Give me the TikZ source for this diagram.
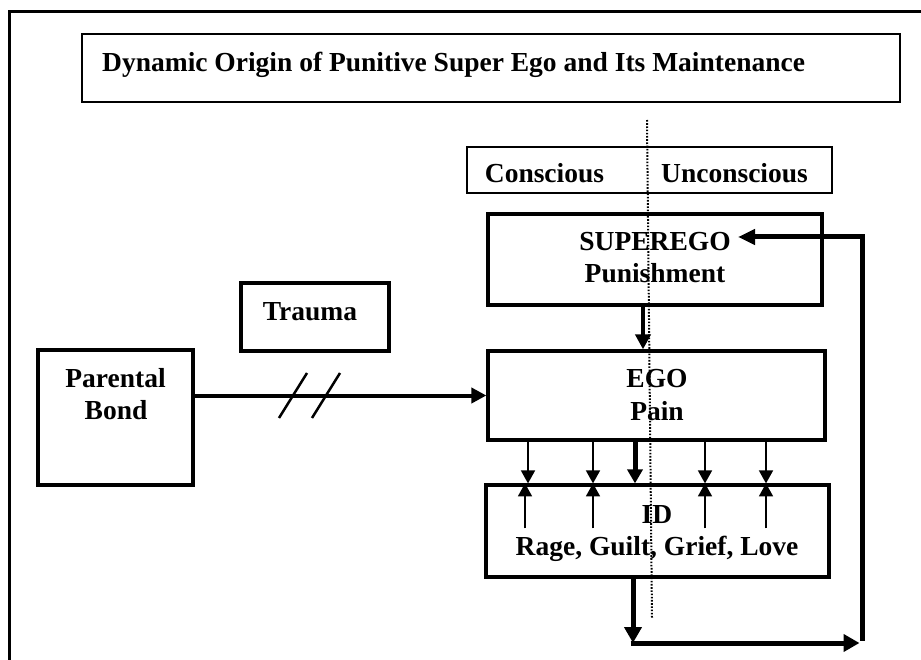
\documentclass[tikz,border=0pt]{standalone}
\usepackage{fontspec}
\setmainfont{Liberation Serif}
\usetikzlibrary{arrows.meta}
\begin{document}
\begin{tikzpicture}[x=1pt,y=-1pt,
  boxwh/.style 2 args={draw,inner sep=0pt,minimum width=#1,minimum height=#2},
  heavybox/.style={line width=3.2pt},
  lightbox/.style={line width=1.9pt},
  txt/.style={inner sep=0pt,anchor=base,font=\fontsize{27.5}{32}\selectfont\bfseries},
  arrthin/.style={line width=1.7pt,-{Triangle[length=13pt,width=14pt]}},
  arrmed/.style={line width=4pt,-{Triangle[length=15pt,width=15pt]}},
  arrthick/.style={line width=5pt,-{Triangle[length=16pt,width=17pt]}},
  dotline/.style={line width=2pt,dash pattern=on 1.6pt off 1.6pt}]
\useasboundingbox (0,0) rectangle (921,660);
% outer frame
\draw[line width=3pt] (9.5,662) -- (9.5,12) -- (921,12);
% boxes
\node[boxwh={818pt}{68pt},lightbox] (title) at (491,68) {};
\node[boxwh={365pt}{46pt},lightbox] (cbox) at (649.5,170) {};
\node[boxwh={334pt}{91pt},heavybox] (sup) at (655,259.5) {};
\node[boxwh={337pt}{89pt},heavybox] (ego) at (656.5,395.5) {};
\node[boxwh={343pt}{92pt},heavybox] (id) at (657.5,531) {};
\node[boxwh={155pt}{135pt},heavybox] (pb) at (115.5,417.5) {};
\node[boxwh={148pt}{68pt},heavybox] (tr) at (315,317) {};
% texts
\node[txt,anchor=base west] (titlet) at (102,72) {Dynamic Origin of Punitive Super Ego and Its Maintenance};
\node[txt] (cons) at (544.5,183) {Conscious};
\node[txt] (uncons) at (734.5,183) {Unconscious};
\node[txt] (supt1) at (655,251) {SUPEREGO};
\node[txt] (supt2) at (655,283) {Punishment};
\node[txt] (egot1) at (657,387) {EGO};
\node[txt] (egot2) at (657,420) {Pain};
\node[txt] (idt1) at (657,523) {ID};
\node[txt] (idt2) at (657,555) {Rage, Guilt, Grief, Love};
\node[txt] (pbt1) at (115.5,387) {Parental};
\node[txt] (pbt2) at (116,419) {Bond};
\node[txt] (trt) at (310,321) {Trauma};
% dotted divider
\coordinate (d1) at (647,120);
\coordinate (d2) at (652,618);
\draw[dotline] (d1) -- (d2);
% parental bond to ego
\draw[arrmed] (pb.east |- ego.west) -- (ego.west);
\draw[line width=2.5pt] (279,418) -- (307,373);
\draw[line width=2.5pt] (312,418) -- (340,373);
% superego to ego
\draw[arrmed] ([xshift=-12pt]sup.south) -- ([xshift=-12pt]sup.south |- ego.north);
% ego to id
\foreach \dx in {-128.5,-63.5,48.5,109.5}
  \draw[arrthin] ([xshift=\dx pt]ego.south) -- ([xshift=\dx pt]ego.south |- id.north);
\draw[line width=5pt,-{Triangle[length=14pt,width=15pt]}] ([xshift=-21.5pt]ego.south) -- ([xshift=-21.5pt]ego.south |- id.north);
% id upward arrows
\foreach \dx in {-132.5,-64.5,47.5,108.5}
  \draw[arrthin] ([xshift=\dx pt,yshift=-45pt]id.north) -- ([xshift=\dx pt]id.north);
% feedback loop
\coordinate (fb1) at (633,643);
\coordinate (fb2) at (862,643);
\coordinate (fbt) at (738,237);
\draw[arrthick] (id.south -| fb1) -- (fb1);
\draw[arrthick] ([xshift=-2.5pt]fb1) -- ([xshift=-2.5pt]fb2);
\draw[line width=5pt,line join=miter,-{Triangle[length=17pt,width=15pt]}] ([yshift=2.5pt]fb2) -- (fb2 |- fbt) -- (fbt);
\end{tikzpicture}
\end{document}
